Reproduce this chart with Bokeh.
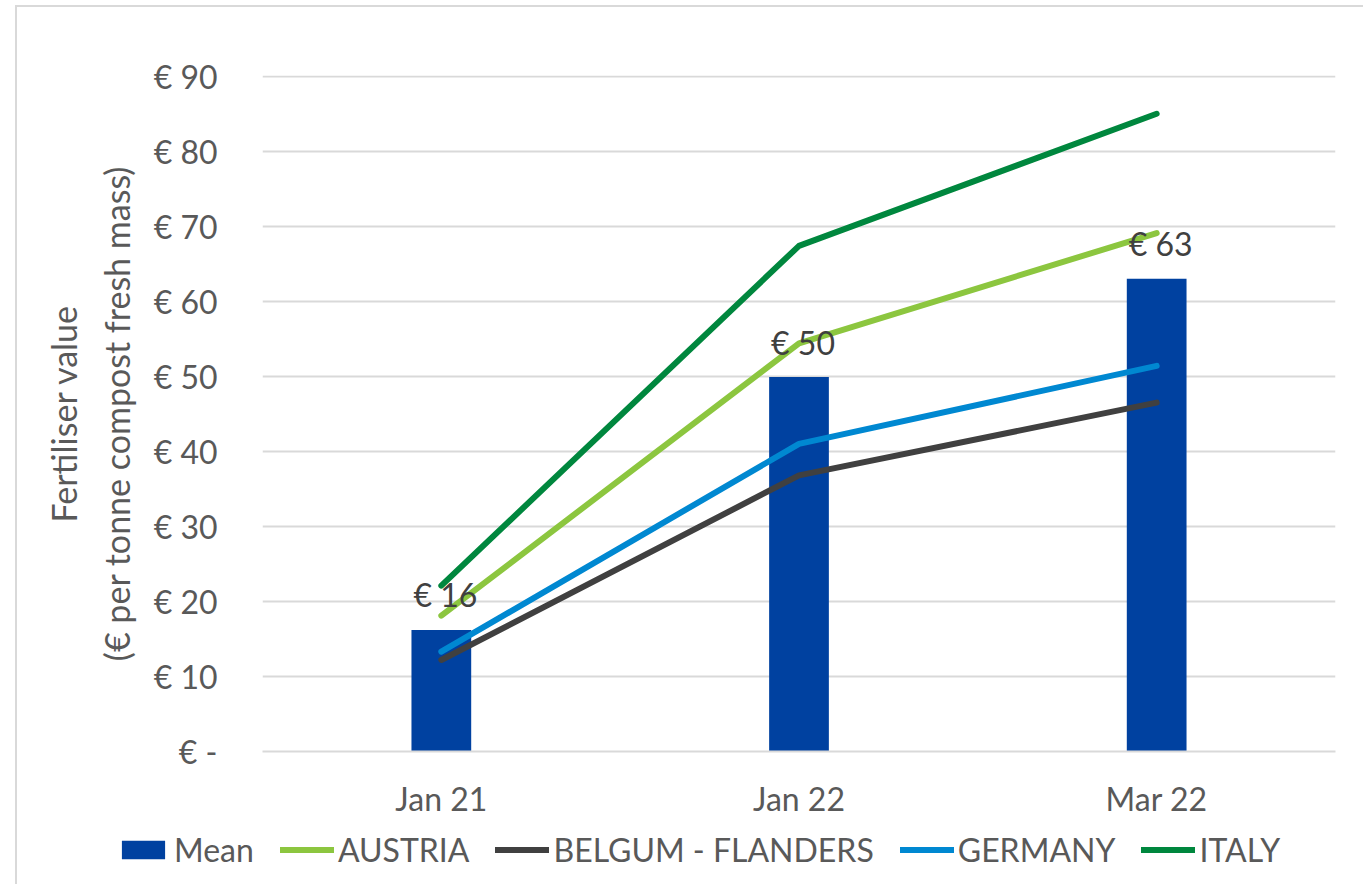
from bokeh.plotting import figure
from bokeh.layouts import column
from bokeh.models import (FactorRange, Range1d, Legend, LegendItem, LinearAxis,
                          FixedTicker, ColumnDataSource)
from bokeh.core.properties import value
from bokeh.embed import file_html
from bokeh.resources import INLINE

categories = ["Jan 21", "Jan 22", "Mar 22"]
mean = [16.2, 49.9, 63.0]
austria = [18.1, 54.4, 69.1]
belgium = [12.2, 36.8, 46.5]
germany = [13.3, 41.0, 51.4]
italy = [22.1, 67.4, 85.0]
mean_labels = ["€ 16", "€ 50", "€ 63"]
y_ticks = [0, 10, 20, 30, 40, 50, 60, 70, 80, 90]
y_tick_labels = ["€ -", "€ 10", "€ 20", "€ 30", "€ 40", "€ 50", "€ 60", "€ 70", "€ 80", "€ 90"]
series_names = ["Mean", "AUSTRIA", "BELGUM - FLANDERS", "GERMANY", "ITALY"]
series_keys = ["mean", "austria", "belgium", "germany", "italy"]
series_colors = ["#0041A0", "#8CC63F", "#404040", "#0088D1", "#00873E"]

FONT = "Lato"
TXT = "#595959"
W = 1346

src = ColumnDataSource(dict(cat=categories, mean=mean, austria=austria, belgium=belgium,
                            germany=germany, italy=italy, lab=mean_labels))

p = figure(width=W, height=816, x_range=FactorRange(factors=categories),
           y_range=Range1d(0, 90.1), output_backend="svg", toolbar_location=None,
           min_border_left=245, min_border_right=28, min_border_top=68, min_border_bottom=72)
p.frame_align = False
p.outline_line_color = None
p.background_fill_color = "white"
p.border_fill_color = "white"

p.vbar(x="cat", top="mean", width=0.167, source=src, fill_color=series_colors[0], line_color=None)
for key, col in zip(series_keys[1:], series_colors[1:]):
    p.line(x="cat", y=key, source=src, line_color=col, line_width=6,
           line_cap="round", line_join="round")

p.text(x="cat", y="mean", text="lab", source=src, text_align="center", text_baseline="alphabetic",
       y_offset=-35, x_offset=4, text_font=value(FONT), text_font_size="32px", text_color="#404040")

# y axis
p.yaxis.ticker = FixedTicker(ticks=y_ticks)
p.yaxis.major_label_overrides = {t: l for t, l in zip(y_ticks, y_tick_labels)}
p.yaxis.axis_line_color = None
p.yaxis.major_tick_line_color = None
p.yaxis.minor_tick_line_color = None
p.yaxis.major_tick_out = 0
p.yaxis.major_tick_in = 0
p.yaxis.major_label_standoff = 45
p.yaxis.major_label_text_font = FONT
p.yaxis.major_label_text_font_size = "32px"
p.yaxis.major_label_text_color = TXT
p.yaxis.axis_label = "(€ per tonne compost fresh mass)"
p.yaxis.axis_label_standoff = 14
p.yaxis.axis_label_text_font = FONT
p.yaxis.axis_label_text_font_style = "normal"
p.yaxis.axis_label_text_font_size = "34px"
p.yaxis.axis_label_text_color = TXT

outer = LinearAxis(ticker=FixedTicker(ticks=[]), axis_label="Fertiliser value",
                   axis_label_standoff=9, axis_label_text_font=FONT,
                   axis_label_text_font_style="normal", axis_label_text_font_size="34px",
                   axis_label_text_color=TXT, axis_line_color=None, major_tick_line_color=None,
                   minor_tick_line_color=None, major_tick_out=0, major_tick_in=0,
                   major_label_standoff=0)
p.add_layout(outer, "left")

# x axis
p.xaxis.axis_line_color = "#d9d9d9"
p.xaxis.axis_line_width = 2
p.xaxis.major_tick_line_color = None
p.xaxis.minor_tick_line_color = None
p.xaxis.major_tick_out = 0
p.xaxis.major_label_standoff = 27
p.xaxis.major_label_text_font = FONT
p.xaxis.major_label_text_font_size = "32px"
p.xaxis.major_label_text_color = TXT

p.xgrid.grid_line_color = None
p.ygrid.ticker = FixedTicker(ticks=y_ticks)
p.ygrid.grid_line_color = "#d9d9d9"
p.ygrid.grid_line_width = 2

# legend strip below the chart; its renderers reuse the data but lie outside its view
lg = figure(width=W, height=61, x_range=FactorRange(factors=categories),
            y_range=Range1d(1000, 1001), output_backend="svg", toolbar_location=None,
            min_border=0, x_axis_type=None, y_axis_type=None)
lg.frame_align = False
lg.outline_line_color = None
lg.grid.visible = False
items = [LegendItem(label=series_names[0],
                    renderers=[lg.vbar(x="cat", top=series_keys[0], width=0.167, source=src,
                                       fill_color=series_colors[0], line_color=None)])]
for name, key, col in zip(series_names[1:], series_keys[1:], series_colors[1:]):
    items.append(LegendItem(label=name, renderers=[lg.line(x="cat", y=key, source=src,
                                                           line_color=col, line_width=6,
                                                           line_cap="round")]))
legend = Legend(items=items, orientation="horizontal", location=(99, 15),
                padding=0, margin=0, spacing=26, glyph_width=54, glyph_height=23,
                label_standoff=4, label_text_font=FONT, label_text_font_size="32px",
                label_text_color=TXT, border_line_color=None, background_fill_alpha=0)
lg.add_layout(legend)

layout = column(p, lg, spacing=0)
layout.styles = {"border-left": "2px solid #d9d9d9", "border-top": "2px solid #d9d9d9",
                 "margin-left": "15px", "margin-top": "5px"}

open("out.html", "w").write(file_html(layout, INLINE))
